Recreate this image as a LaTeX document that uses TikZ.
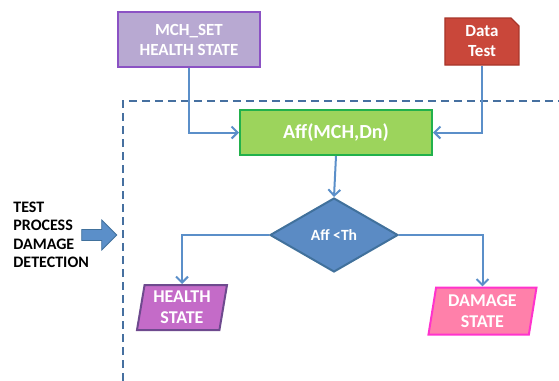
\documentclass[tikz,border=0pt]{standalone}
\usepackage{fontspec}
\setmainfont{Carlito}
\usetikzlibrary{shapes.geometric,shapes.misc,shapes.arrows,arrows.meta}
\definecolor{lineblue}{HTML}{5B8FC9}
\definecolor{frameblue}{HTML}{4670A0}
\definecolor{mchfill}{HTML}{B8A9D2}
\definecolor{mchdraw}{HTML}{8B52C4}
\definecolor{datafill}{HTML}{C9473A}
\definecolor{datadraw}{HTML}{A8352A}
\definecolor{afffill}{HTML}{9CD45C}
\definecolor{affdraw}{HTML}{22B14C}
\definecolor{decfill}{HTML}{5B8BC4}
\definecolor{decdraw}{HTML}{41719C}
\definecolor{healthfill}{HTML}{C46BC8}
\definecolor{healthdraw}{HTML}{6E4A8E}
\definecolor{damagefill}{HTML}{FF80AA}
\definecolor{damagedraw}{HTML}{FF33CC}

\begin{document}
\begin{tikzpicture}[x=0.5pt,y=-0.5pt]
                        \tikzstyle{box}=[font=\bfseries, text=white, align=center, line width=1pt, inner sep=0pt]
                        \tikzstyle{io}=[box, trapezium, trapezium left angle=77, trapezium right angle=103, trapezium stretches body, minimum width=45pt, minimum height=22.5pt, font=\bfseries\fontsize{9}{10.5}\selectfont]
                        \tikzstyle{link}=[draw=lineblue, line width=1pt, -{Straight Barb[length=3pt,width=6pt]}]
                        \useasboundingbox (0,0) rectangle (559,381);
                        \draw[frameblue, line width=1.2pt, dash pattern=on 4pt off 2.5pt] (123,381) -- (123,101) -- (559,101);
                        \node[box, fill=mchfill, draw=mchdraw, minimum width=71pt, minimum height=27.5pt, font=\bfseries\fontsize{8.5}{10}\selectfont] (mch) at (189,39.5) {MCH\_SET\\HEALTH STATE};
                        \node[box, chamfered rectangle, chamfered rectangle corners=north east, chamfered rectangle xsep=2pt, chamfered rectangle ysep=2pt, fill=datafill, draw=datadraw, line width=0.6pt, minimum width=37pt, minimum height=23.5pt, font=\bfseries\fontsize{8.5}{10}\selectfont] (data) at (482,41.5) {Data\\Test};
                        \node[box, fill=afffill, draw=affdraw, minimum width=96pt, minimum height=22.5pt, font=\bfseries\fontsize{10}{12}\selectfont] (aff) at (336,132.5) {Aff(MCH,Dn)};
                        \node[box, diamond, aspect=1.73, fill=decfill, draw=decdraw, minimum width=64pt, minimum height=37pt, font=\bfseries\fontsize{7.8}{9}\selectfont] (dec) at (334,235) {Aff <Th};
                        \node[io, fill=healthfill, draw=healthdraw] (health) at (182,307.5) {HEALTH\\STATE};
                        \node[io, fill=damagefill, draw=damagedraw, minimum width=54pt, minimum height=23.5pt] (damage) at (482.5,311) {DAMAGE\\STATE};
                        \node[anchor=west, align=left, font=\bfseries\fontsize{8}{9.2}\selectfont, inner sep=0pt] (title) at (13,235) {TEST\\PROCESS\\DAMAGE\\DETECTION};
                        \node[single arrow, fill=lineblue, draw=decdraw, line width=0.4pt, minimum height=17.5pt, minimum width=15pt, single arrow head extend=3pt, inner sep=1.5pt] (pointer) at (96.5,235) {};
                        \draw[link] (mch.south) |- (aff.west);
                        \draw[link] (data.south) |- (aff.east);
                        \draw[link] (aff.south) -- (dec.north);
                        \draw[link] (dec.west) -| (health.north);
                        \draw[link] (dec.east) -| (damage.north);
                    \end{tikzpicture}
\end{document}
